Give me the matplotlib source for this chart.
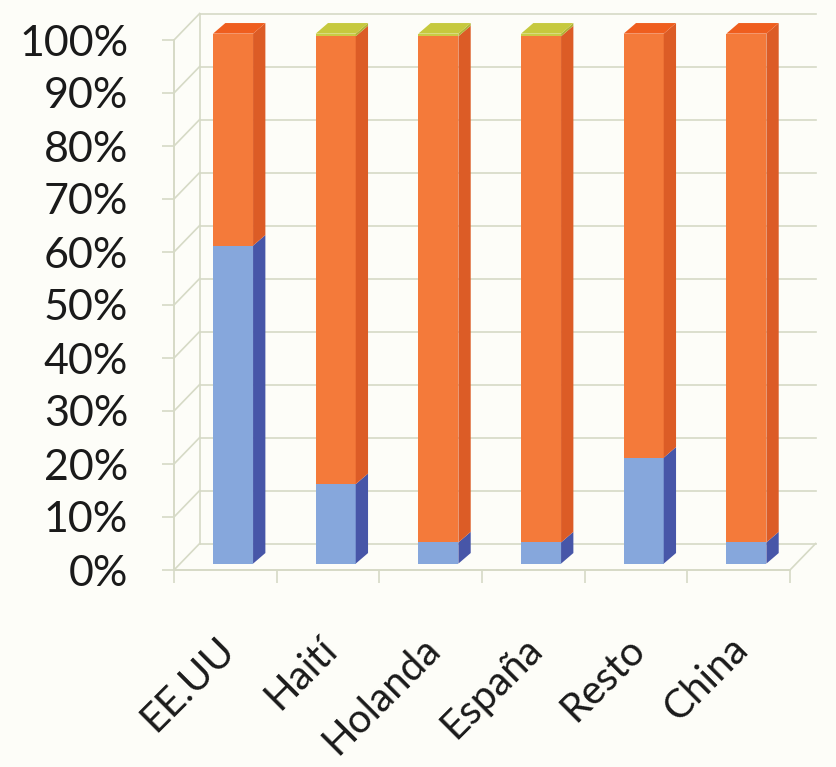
import numpy as np
import matplotlib
matplotlib.use('Agg')
import matplotlib.pyplot as plt
from matplotlib.patches import Polygon, Rectangle

plt.rcParams['font.family'] = ['Lato', 'DejaVu Sans']

categories = ['EE.UU', 'Haití', 'Holanda', 'España', 'Resto', 'China']
blue_vals = [60, 15, 4, 4, 20, 4]
green_vals = [0, 0.5, 0.5, 0.5, 0, 0]
orange_vals = [100 - b - g for b, g in zip(blue_vals, green_vals)]
yticks = list(range(0, 101, 10))
ytick_labels = ['%d%%' % v for v in yticks]

# colours: front face, side face, top face
blue_c = ('#86a7dc', '#4756a8', '#6f8fd0')
orange_c = ('#f47a3a', '#dc5c26', '#ef5e1e')
green_c = ('#c9cc45', '#b0b336', '#c6c93e')
grid_c = '#d6dac6'
bg = '#fdfdf8'

# fake 3d projection offsets (category units, percent units)
wall_dx, wall_dy = 0.25, 5.0
bar_dx, bar_dy = 0.12, 2.0
bar_base = 1.2
bar_left, bar_w = -0.12, 0.39

fig = plt.figure(figsize=(8.37, 7.67), dpi=100, facecolor=bg)
ax = fig.add_axes([174 / 837, 1 - 570 / 767, 616 / 837, 530 / 767])
ax.set_facecolor(bg)
ax.patch.set_alpha(0)
ax.set_xlim(-0.5, 5.5)
ax.set_ylim(0, 100)
for s in ax.spines.values():
    s.set_visible(False)

n = len(categories)
x_lo, x_hi = -0.5, n - 0.5

# back wall gridlines and diagonal links to front axis
for v in yticks:
    ax.plot([x_lo + wall_dx, x_hi + wall_dx], [v + wall_dy, v + wall_dy],
            color=grid_c, lw=1.2, clip_on=False, zorder=1)
    ax.plot([x_lo, x_lo + wall_dx], [v, v + wall_dy],
            color=grid_c, lw=1.2, clip_on=False, zorder=1)
# left wall back edge
ax.plot([x_lo + wall_dx] * 2, [wall_dy, 100 + wall_dy], color=grid_c, lw=1.2,
        clip_on=False, zorder=1)
# front axis and floor
ax.plot([x_lo, x_lo], [0, 100], color=grid_c, lw=1.4, clip_on=False, zorder=1)
ax.plot([x_lo, x_hi], [0, 0], color=grid_c, lw=1.4, clip_on=False, zorder=1)
ax.plot([x_hi, x_hi + wall_dx], [0, wall_dy], color=grid_c, lw=1.2,
        clip_on=False, zorder=1)

# stacked bars
for i in range(n):
    x0 = i + bar_left
    segs = [(blue_vals[i], blue_c), (orange_vals[i], orange_c),
            (green_vals[i], green_c)]
    y0 = bar_base
    top_col = None
    for val, col in segs:
        if val <= 0:
            continue
        y1 = y0 + val
        ax.add_patch(Rectangle((x0, y0), bar_w, val, facecolor=col[0],
                               edgecolor='none', clip_on=False, zorder=3))
        ax.add_patch(Polygon([(x0 + bar_w, y0), (x0 + bar_w + bar_dx, y0 + bar_dy),
                              (x0 + bar_w + bar_dx, y1 + bar_dy), (x0 + bar_w, y1)],
                             closed=True, facecolor=col[1], edgecolor='none',
                             clip_on=False, zorder=3))
        top_col = col[2]
        y0 = y1
    ax.add_patch(Polygon([(x0, y0), (x0 + bar_w, y0),
                          (x0 + bar_w + bar_dx, y0 + bar_dy), (x0 + bar_dx, y0 + bar_dy)],
                         closed=True, facecolor=top_col, edgecolor='none',
                         clip_on=False, zorder=3))

# axes ticks
ax.set_yticks(yticks)
ax.set_yticklabels(ytick_labels, fontsize=31, color='#1a1a1a')
ax.tick_params(axis='y', length=9, width=1.2, color=grid_c, pad=24)
ax.set_xticks(np.arange(x_lo, x_hi + 0.01, 1.0))
ax.set_xticklabels([])
ax.tick_params(axis='x', length=9, width=1.2, color=grid_c)

for i, name in enumerate(categories):
    ax.text(i + 0.03, -13.8, name, rotation=45, rotation_mode='anchor',
            ha='right', va='center', fontsize=29, color='#1a1a1a')

fig.savefig('out.png', dpi=100, facecolor=bg)
